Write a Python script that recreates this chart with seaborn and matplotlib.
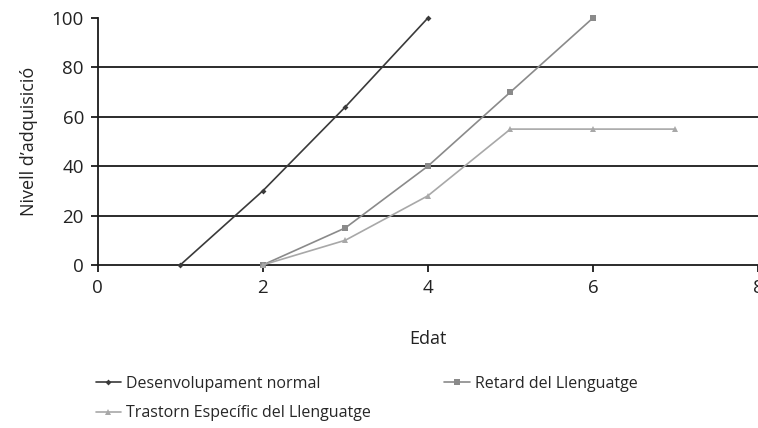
import matplotlib
matplotlib.use('Agg')
import matplotlib.pyplot as plt
import pandas as pd
import seaborn as sns

# data
normal_x = [1, 2, 3, 4]
normal_y = [0, 30, 64, 100]
retard_x = [2, 3, 4, 5, 6]
retard_y = [0, 15, 40, 70, 100]
tel_x = [2, 3, 4, 5, 6, 7]
tel_y = [0, 10, 28, 55, 55, 55]

labels = ['Desenvolupament normal', 'Retard del Llenguatge',
          'Trastorn Específic del Llenguatge']

df = pd.concat([
    pd.DataFrame(dict(edat=normal_x, nivell=normal_y, serie=labels[0])),
    pd.DataFrame(dict(edat=retard_x, nivell=retard_y, serie=labels[1])),
    pd.DataFrame(dict(edat=tel_x, nivell=tel_y, serie=labels[2])),
])

sns.set_style('white')
plt.rcParams['font.family'] = ['Open Sans', 'DejaVu Sans']

fig = plt.figure(figsize=(7.58, 4.28), dpi=100)
ax = fig.add_axes([0.129, 0.381, 0.871, 0.577])

colors = {labels[0]: '#3a3a3a', labels[1]: '#8a8a8a', labels[2]: '#a8a8a8'}
markers = {labels[0]: 'D', labels[1]: 's', labels[2]: '^'}
sizes = {labels[0]: 3, labels[1]: 5, labels[2]: 5}
for lab in labels:
    sub = df[df.serie == lab]
    sns.lineplot(data=sub, x='edat', y='nivell', ax=ax, color=colors[lab],
                 marker=markers[lab], markersize=sizes[lab], linewidth=1.2,
                 markeredgewidth=0, label=lab, clip_on=False, zorder=3)

ax.set_xlim(0, 8)
ax.set_ylim(0, 100)
ax.set_xticks([0, 2, 4, 6, 8])
ax.set_yticks([0, 20, 40, 60, 80, 100])
for yv in [20, 40, 60, 80]:
    ax.axhline(yv, color='#1a1a1a', linewidth=1.3, zorder=0)

for s in ['top', 'right']:
    ax.spines[s].set_visible(False)
for s in ['left', 'bottom']:
    ax.spines[s].set_color('#1a1a1a')
    ax.spines[s].set_linewidth(1.3)
ax.tick_params(axis='both', direction='out', length=5, width=1.3,
               bottom=True, left=True,
               color='#1a1a1a', labelsize=13.5, labelcolor='#222222', pad=5)

ax.set_xlabel('Edat', fontsize=13, color='#222222', labelpad=24)
ax.set_ylabel('Nivell d\u2019adquisició', fontsize=13, color='#222222', labelpad=10)

h, l = ax.get_legend_handles_labels()
order = [0, 2, 1]
ax.legend([h[i] for i in order], [l[i] for i in order], ncol=2,
          loc='upper left', bbox_to_anchor=(-0.025, -0.39), frameon=False,
          fontsize=11.5, handlelength=1.6, handletextpad=0.3,
          columnspacing=4.6, labelspacing=0.85)

fig.savefig('out.png', dpi=100)
